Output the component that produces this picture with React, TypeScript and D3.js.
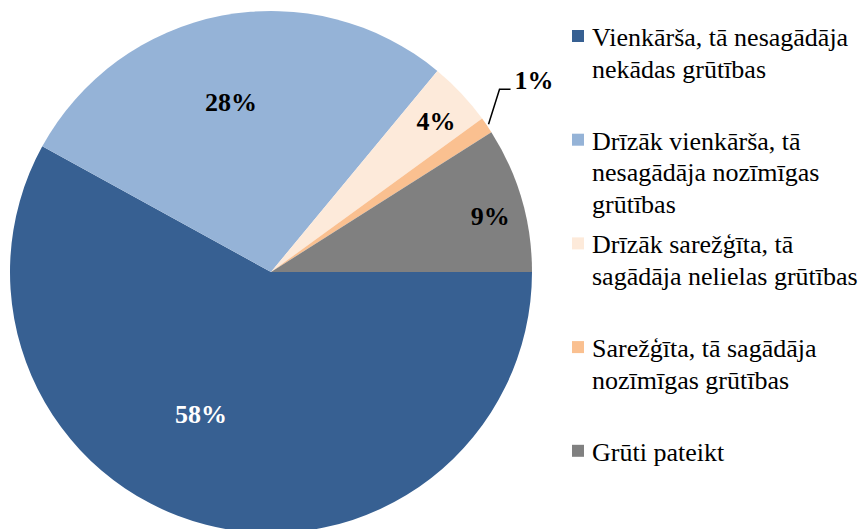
import React from "react";
import * as d3 from "d3";

const categories = [
  "Vienkārša, tā nesagādāja nekādas grūtības",
  "Drīzāk vienkārša, tā nesagādāja nozīmīgas grūtības",
  "Drīzāk sarežģīta, tā sagādāja nelielas grūtības",
  "Sarežģīta, tā sagādāja nozīmīgas grūtības",
  "Grūti pateikt",
];
const legendLines = [
  ["Vienkārša, tā nesagādāja", "nekādas grūtības"],
  ["Drīzāk vienkārša, tā", "nesagādāja nozīmīgas", "grūtības"],
  ["Drīzāk sarežģīta, tā", "sagādāja nelielas grūtības"],
  ["Sarežģīta, tā sagādāja", "nozīmīgas grūtības"],
  ["Grūti pateikt"],
];
const values = [58, 28, 4, 1, 9];
const labels = ["58%", "28%", "4%", "1%", "9%"];

const colors = ["#376092", "#95B3D7", "#FDEADA", "#FAC090", "#808080"];
const labelColors = ["#FFFFFF", "#000000", "#000000", "#000000", "#000000"];
// label placement: [fraction along slice angle, fraction of radius]
const labelPlace: [number, number][] = [
  [0.556, 0.61],
  [0.475, 0.667],
  [0.56, 0.855],
  [0.5, 1.0],
  [0.565, 0.866],
];

const W = 866;
const H = 529;
const cx = 271;
const cy = 272;
const R = 261;
const FONT = "Times New Roman, Liberation Serif, DejaVu Serif, serif";

export default function App() {
  const pie = d3
    .pie<number>()
    .sort(null)
    .startAngle(Math.PI / 2)
    .endAngle(Math.PI / 2 + 2 * Math.PI);
  const arcs = pie(values);
  const arcGen = d3.arc<d3.PieArcDatum<number>>().innerRadius(0).outerRadius(R);

  const polar = (a: number, r: number) => [Math.sin(a) * r, -Math.cos(a) * r];

  return (
    <svg
      width={W}
      height={H}
      style={{ position: "absolute", left: 0, top: 0, background: "#fff" }}
    >
      <g transform={`translate(${cx},${cy})`}>
        {arcs.map((a, i) => (
          <path key={i} d={arcGen(a) || ""} fill={colors[i]} />
        ))}
        {arcs.map((a, i) => {
          if (i === 3) {
            const mid = (a.startAngle + a.endAngle) / 2;
            const [x0, y0] = polar(mid, R + 2);
            const [x1, y1] = [x0 + 11, y0 - 35];
            const x2 = x1 + 11;
            return (
              <g key={i}>
                <polyline
                  points={`${x0},${y0} ${x1},${y1} ${x2},${y1}`}
                  fill="none"
                  stroke="#000"
                  strokeWidth={1.5}
                />
                <text
                  x={x2 + 4}
                  y={y1}
                  fontFamily={FONT}
                  fontWeight="bold"
                  fontSize={26}
                  fill={labelColors[i]}
                >
                  {labels[i]}
                </text>
              </g>
            );
          }
          const [f, rf] = labelPlace[i];
          const ang = a.startAngle + (a.endAngle - a.startAngle) * f;
          const [x, y] = polar(ang, R * rf);
          return (
            <text
              key={i}
              x={x}
              y={y}
              textAnchor="middle"
              dominantBaseline="central"
              fontFamily={FONT}
              fontWeight="bold"
              fontSize={26}
              fill={labelColors[i]}
            >
              {labels[i]}
            </text>
          );
        })}
      </g>
      <g>
        {categories.map((c, i) => {
          const base = 46 + i * 103.7;
          return (
            <g key={c}>
              <rect x={572} y={base - 16} width={12} height={12} fill={colors[i]} />
              {legendLines[i].map((ln, j) => (
                <text
                  key={j}
                  x={592}
                  y={base + j * 31.5}
                  fontFamily={FONT}
                  fontSize={26}
                  fill="#000"
                >
                  {ln}
                </text>
              ))}
            </g>
          );
        })}
      </g>
    </svg>
  );
}
